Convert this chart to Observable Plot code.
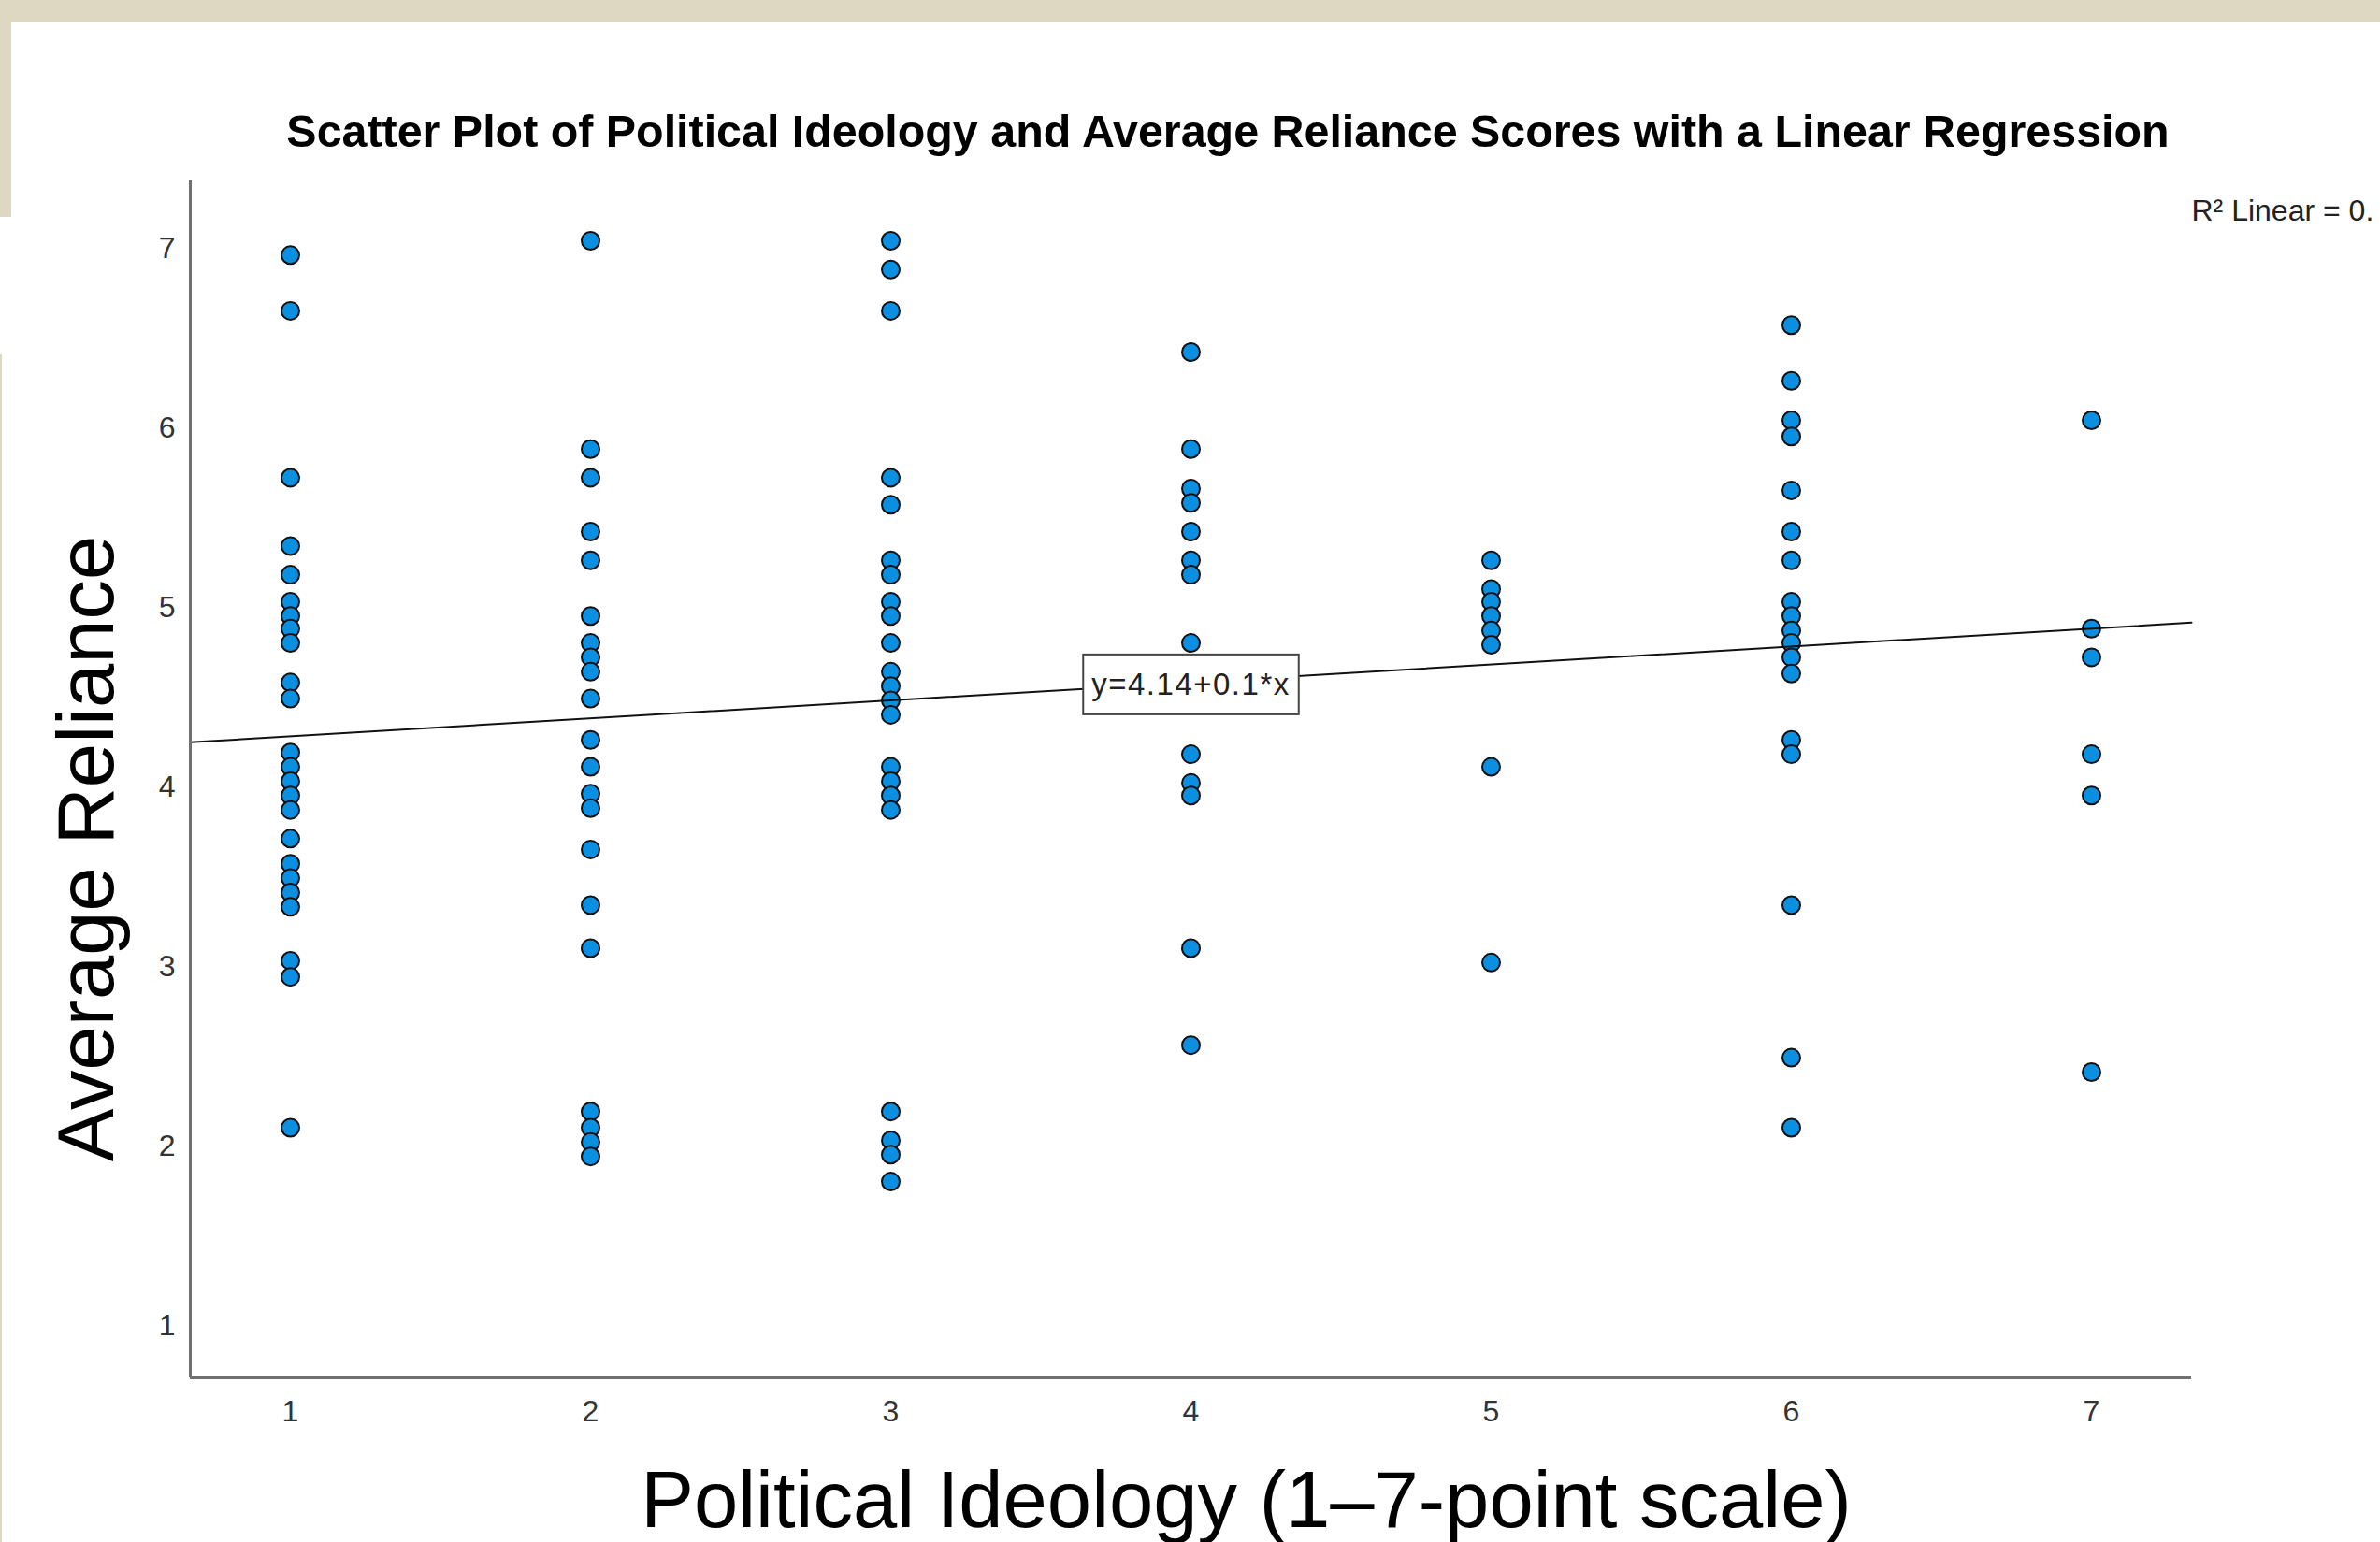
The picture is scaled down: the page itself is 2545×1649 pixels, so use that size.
<!DOCTYPE html>
<html>
<head>
<meta charset="utf-8">
<script src="https://cdn.jsdelivr.net/npm/d3@7"></script>
<script src="https://cdn.jsdelivr.net/npm/@observablehq/plot@0.6"></script>
<style>
  html, body { margin: 0; padding: 0; background: #ffffff; }
  body { width: 2545px; height: 1649px; overflow: hidden; position: relative;
         font-family: "Liberation Sans", Arial, sans-serif; }
  .beige { position: absolute; background: #DED8C2; z-index: 5; }
  #title { position: relative; height: 178px; }
  #title span { position: absolute; top: 116px; left: 1313px; transform: translateX(-50%);
                font-size: 48.4px; line-height: 48px; font-weight: bold; white-space: nowrap; color: #000; }
  #chart svg { display: block; }
</style>
</head>
<body>
<div class="beige" style="left:0;top:0;width:2545px;height:24px;"></div>
<div class="beige" style="left:0;top:0;width:12px;height:232px;"></div>
<div class="beige" style="left:0;top:379px;width:2px;height:1270px;"></div>
<div id="title"><span id="titleText"></span></div>
<div id="chart"></div>
<script>
// ---- Data ----
const chartTitle = "Scatter Plot of Political Ideology and Average Reliance Scores with a Linear Regression";
const xTitle = "Political Ideology (1–7-point scale)";
const yTitle = "Average Reliance";
const r2Label = "R² Linear = 0.";   // as far as the reference shows it (cut at the page edge)
const xTicks = [1, 2, 3, 4, 5, 6, 7];
const yTicks = [1, 2, 3, 4, 5, 6, 7];
const xDomain = [2 / 3, 22 / 3];
const yDomain = [2 / 3, 22 / 3];

const ideology1 = [6.92, 6.61, 5.68, 5.30, 5.14, 4.99, 4.91, 4.84, 4.76, 4.54, 4.45, 4.15, 4.07, 3.99, 3.91, 3.83, 3.67, 3.53, 3.45, 3.37, 3.29, 2.99, 2.90, 2.06];
const ideology2 = [7.00, 5.84, 5.68, 5.38, 5.22, 4.91, 4.76, 4.68, 4.60, 4.45, 4.22, 4.07, 3.92, 3.84, 3.61, 3.30, 3.06, 2.15, 2.06, 1.98, 1.90];
const ideology3 = [7.00, 6.84, 6.61, 5.68, 5.53, 5.22, 5.14, 4.99, 4.91, 4.76, 4.60, 4.52, 4.44, 4.36, 4.07, 3.99, 3.91, 3.83, 2.15, 1.99, 1.91, 1.76];
const ideology4 = [6.38, 5.84, 5.62, 5.54, 5.38, 5.22, 5.14, 4.76, 4.14, 3.98, 3.91, 3.06, 2.52];
const ideology5 = [5.22, 5.06, 4.99, 4.91, 4.83, 4.75, 4.07, 2.98];
const ideology6 = [6.53, 6.22, 6.00, 5.91, 5.61, 5.38, 5.22, 4.99, 4.91, 4.83, 4.76, 4.68, 4.59, 4.22, 4.14, 3.30, 2.45, 2.06];
const ideology7 = [6.00, 4.84, 4.68, 4.14, 3.91, 2.37];

const intercept = 4.14;
const slope = 0.1;
const eqLabel = "y=4.14+0.1*x";
const eqAtX = 4;

// ---- Build table ----
const groups = [ideology1, ideology2, ideology3, ideology4, ideology5, ideology6, ideology7];
const data = groups.flatMap((vals, i) => vals.map(v => ({ideology: i + 1, reliance: v})));
const lineData = xDomain.map(x => ({x, y: intercept + slope * x}));

document.getElementById("titleText").textContent = chartTitle;

const font = '"Liberation Sans", Arial, sans-serif';
const plot = Plot.plot({
  width: 2545,
  height: 1471,
  marginTop: 15,
  marginBottom: 176,
  marginLeft: 203,
  marginRight: 202,
  x: {domain: xDomain},
  y: {domain: yDomain},
  style: {fontFamily: font, background: "transparent", color: "#222"},
  marks: [
    Plot.axisX(xTicks, {tickSize: 0, tickPadding: 24, fontSize: 32, fill: "#333", label: null, tickFormat: d => String(d)}),
    Plot.axisY(yTicks, {tickSize: 0, tickPadding: 16, fontSize: 32, fill: "#333", label: null, dy: 8, tickFormat: d => String(d)}),
    Plot.dot(data, {x: "ideology", y: "reliance", r: 9.5, fill: "#0b8fe0", stroke: "#111", strokeWidth: 2}),
    Plot.line(lineData, {x: "x", y: "y", stroke: "#111", strokeWidth: 2}),
    Plot.ruleY([yDomain[0]], {stroke: "#707070", strokeWidth: 3}),
    Plot.ruleX([xDomain[0]], {stroke: "#707070", strokeWidth: 3}),
    Plot.text([eqLabel], {x: [eqAtX], y: [intercept + slope * eqAtX], text: d => d, fontSize: 33, fill: "#222", dy: 3}),
    Plot.text([r2Label], {frameAnchor: "top-right", textAnchor: "start", lineAnchor: "bottom", dy: 42, text: d => d, fontSize: 32, fill: "#222"}),
    Plot.text([yTitle], {frameAnchor: "left", rotate: -90, textAnchor: "middle", lineAnchor: "top", dx: -143, dy: 74, text: d => d, fontSize: 85, fill: "#000"}),
    Plot.text([xTitle], {frameAnchor: "bottom", textAnchor: "middle", lineAnchor: "bottom", dx: 59, dy: 159, text: d => d, fontSize: 85, fill: "#000"})
  ]
});
document.getElementById("chart").appendChild(plot);

// Box around the regression equation label
const eqText = [...plot.querySelectorAll("text")].find(t => t.textContent === eqLabel);
if (eqText) {
  eqText.style.letterSpacing = "1.5px";
  const bb = eqText.getBBox();
  const cy = bb.y + bb.height / 2;
  const rect = document.createElementNS("http://www.w3.org/2000/svg", "rect");
  rect.setAttribute("x", bb.x - 9);
  rect.setAttribute("y", cy - 32);
  rect.setAttribute("width", bb.width + 18);
  rect.setAttribute("height", 64);
  rect.setAttribute("fill", "#ffffff");
  rect.setAttribute("stroke", "#444");
  rect.setAttribute("stroke-width", 2);
  const tr = eqText.getAttribute("transform");
  if (tr) rect.setAttribute("transform", tr);
  eqText.parentNode.insertBefore(rect, eqText);
}
</script>
</body>
</html>
